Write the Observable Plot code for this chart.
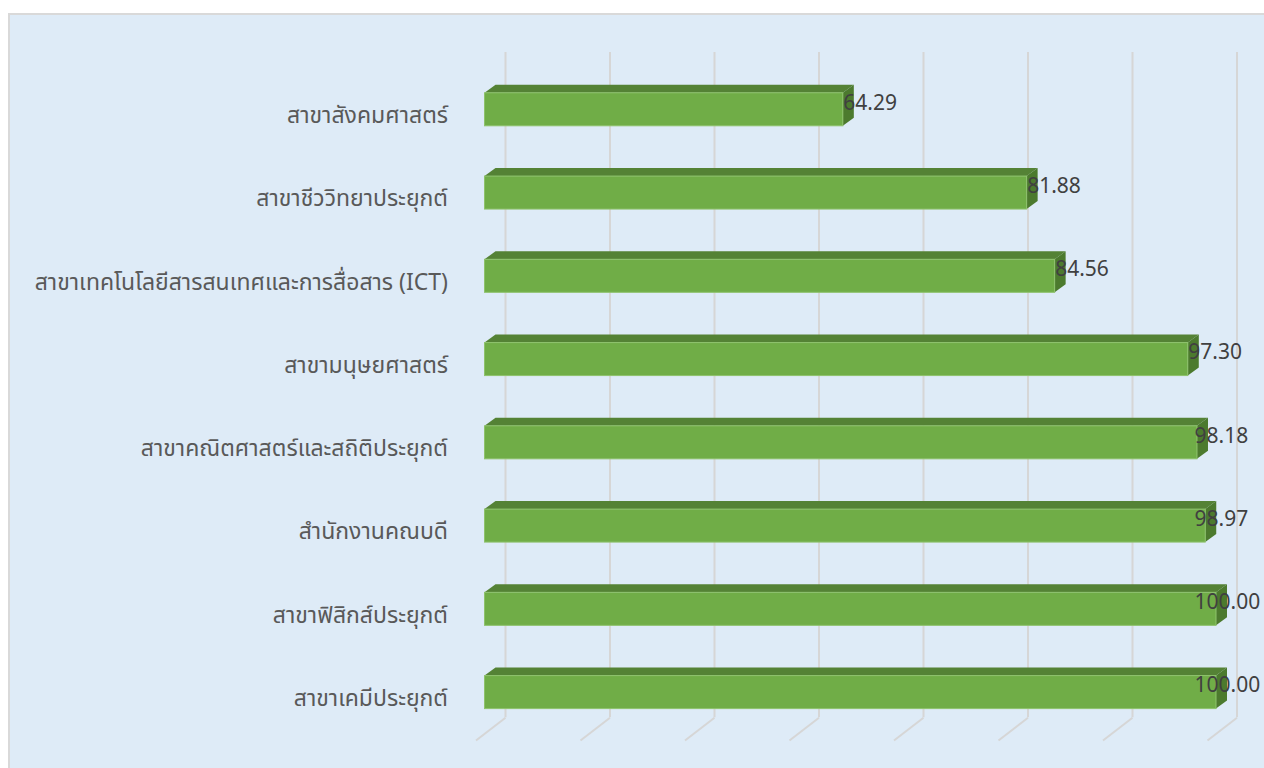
<!DOCTYPE html>
<html>
<head>
<meta charset="utf-8">
<script src="https://cdn.jsdelivr.net/npm/d3@7"></script>
<script src="https://cdn.jsdelivr.net/npm/@observablehq/plot@0.6"></script>
<style>
  html, body { margin: 0; padding: 0; background: #ffffff; width: 1264px; height: 768px; overflow: hidden; }
  #bg { position: absolute; left: 8px; top: 13px; width: 1270px; height: 770px; background: #DEEBF7; border: 2px solid #D9D9D9; box-sizing: border-box; }
  #chart { position: absolute; left: 0; top: 0; }
</style>
</head>
<body>
<div id="bg"></div>
<div id="chart"></div>
<script>
const categories = [
  "สาขาสังคมศาสตร์",
  "สาขาชีววิทยาประยุกต์",
  "สาขาเทคโนโลยีสารสนเทศและการสื่อสาร (ICT)",
  "สาขามนุษยศาสตร์",
  "สาขาคณิตศาสตร์และสถิติประยุกต์",
  "สำนักงานคณบดี",
  "สาขาฟิสิกส์ประยุกต์",
  "สาขาเคมีประยุกต์"
];
const values = [64.29, 81.88, 84.56, 97.30, 98.18, 98.97, 100.00, 100.00];
const xTicks = [30, 40, 50, 60, 70, 80, 90, 100];

// geometry (pixel -> data unit conversions)
const X0 = 30, X1 = 100;
const xRange = [484.5, 1216];
const yRange = [92.8, 675.6];
const PXX = (X1 - X0) / (xRange[1] - xRange[0]);
const PXY = 7 / (yRange[1] - yRange[0]);
const depthX = 11 * PXX, depthY = 8 * PXY, barH = 33 * PXY;
const wallDX = 20.5, floorFrontDX = -9;
const gridTop = (52 - yRange[0]) * PXY;
const floorBack = (717.3 - yRange[0]) * PXY;
const floorFront = (740 - yRange[0]) * PXY;
const labelMax = 97.9; // keep value labels inside the chart area

const rows = categories.map((c, i) => ({c, v: values[i], i}));

const topFace = rows.flatMap(d => [
  {z: d.c, x: X0, y1: d.i, y2: d.i},
  {z: d.c, x: X0 + depthX, y1: d.i, y2: d.i - depthY},
  {z: d.c, x: d.v, y1: d.i, y2: d.i - depthY},
  {z: d.c, x: d.v + depthX, y1: d.i - depthY, y2: d.i - depthY}
]);
const sideFace = rows.flatMap(d => [
  {z: d.c, x: d.v, y1: d.i + barH, y2: d.i},
  {z: d.c, x: d.v + depthX, y1: d.i + barH - depthY, y2: d.i - depthY}
]);

const chart = Plot.plot({
  width: 1264,
  height: 768,
  margin: 0,
  x: {domain: [X0, X1], range: xRange, axis: null},
  y: {domain: [0, 7], range: yRange, axis: null},
  style: {background: "transparent", fontFamily: "'Noto Sans Thai', 'Noto Sans', 'DejaVu Sans', sans-serif"},
  marks: [
    Plot.ruleX(xTicks, {x: d => d, y1: gridTop, y2: floorBack, dx: wallDX, stroke: "#D6D6D6", strokeWidth: 2}),
    Plot.link(xTicks, {
      x1: d => d + wallDX * PXX, y1: d => floorBack,
      x2: d => d + floorFrontDX * PXX, y2: d => floorFront,
      stroke: "#D6D6D6", strokeWidth: 2
    }),
    Plot.areaY(topFace, {x: "x", y1: "y1", y2: "y2", z: "z", fill: "#548235", curve: "linear"}),
    Plot.areaY(sideFace, {x: "x", y1: "y1", y2: "y2", z: "z", fill: "#4C7A2E", curve: "linear"}),
    Plot.rect(rows, {x1: d => X0, x2: "v", y1: "i", y2: d => d.i + barH, fill: "#70AD47", stroke: "#8EC26C", strokeWidth: 1}),
    Plot.text(rows, {
      x: d => X0, y: d => d.i + barH / 2, text: "c",
      textAnchor: "end", dx: -37, dy: 6, fontSize: 23, fill: "#595959"
    }),
    Plot.text(rows, {
      x: d => Math.min(d.v, labelMax), y: d => d.i + barH / 2, text: d => d.v.toFixed(2),
      textAnchor: "start", dy: -7, fontSize: 21, fill: "#404040"
    })
  ]
});
document.getElementById("chart").appendChild(chart);
</script>
</body>
</html>
